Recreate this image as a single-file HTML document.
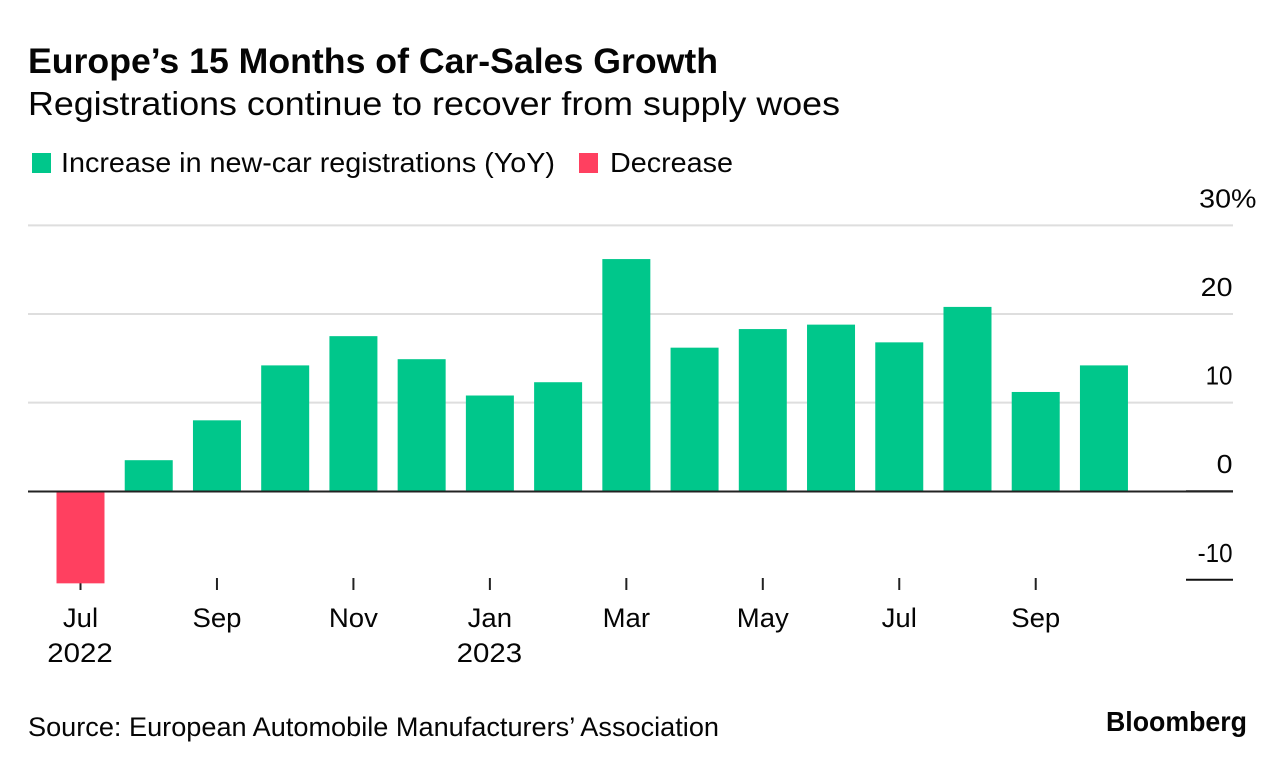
<!DOCTYPE html>
<html lang="en">
<head>
<meta charset="utf-8">
<title>Europe's 15 Months of Car-Sales Growth</title>
<style>
html,body{margin:0;padding:0;background:#fff;width:1285px;height:768px;overflow:hidden}
svg{display:block}
text{font-family:"Liberation Sans",sans-serif;fill:#050505}
</style>
</head>
<body>
<svg id="chart" width="1285" height="768" viewBox="0 0 1285 768" xmlns="http://www.w3.org/2000/svg">
<rect x="0" y="0" width="1285" height="768" fill="#fff"/>
<text x="28" y="73" font-size="35" font-weight="700" textLength="690" lengthAdjust="spacingAndGlyphs">Europe’s 15 Months of Car-Sales Growth</text>
<text x="28" y="115" font-size="33" textLength="812" lengthAdjust="spacingAndGlyphs">Registrations continue to recover from supply woes</text>
<rect x="32" y="153" width="19" height="20" fill="#00c78b"/>
<text x="61" y="172" font-size="28" textLength="494" lengthAdjust="spacingAndGlyphs">Increase in new-car registrations (YoY)</text>
<rect x="579" y="153" width="19" height="20" fill="#ff4060"/>
<text x="610" y="172" font-size="28" textLength="123" lengthAdjust="spacingAndGlyphs">Decrease</text>
<g id="grid"></g>
<g id="ticks"></g>
<g id="bars"></g>
<g id="axis"></g>
<text x="28" y="736" font-size="27" textLength="691" lengthAdjust="spacingAndGlyphs">Source: European Automobile Manufacturers’ Association</text>
<text x="1106" y="731" font-size="28" font-weight="700" textLength="141" lengthAdjust="spacingAndGlyphs">Bloomberg</text>
</svg>
<script>
const months = ['Jul 2022','Aug 2022','Sep 2022','Oct 2022','Nov 2022','Dec 2022','Jan 2023','Feb 2023','Mar 2023','Apr 2023','May 2023','Jun 2023','Jul 2023','Aug 2023','Sep 2023','Oct 2023'];
const values = [-10.4,3.5,8.0,14.2,17.5,14.9,10.8,12.3,26.2,16.2,18.3,18.8,16.8,20.8,11.2,14.2];
const yTicks = [30,20,10,0,-10];
const yTickLabels = ['30%','20','10','0','-10'];
const xTickMonths = ['Jul 2022','Sep 2022','Nov 2022','Jan 2023','Mar 2023','May 2023','Jul 2023','Sep 2023'];
const xTickLabels = ['Jul','Sep','Nov','Jan','Mar','May','Jul','Sep'];
const xTickYears = ['2022','','','2023','','','',''];

const NS = 'http://www.w3.org/2000/svg';
function y(v){ return 491.2 - v * 8.86; }
function x(i){ return 80.5 + i * 68.23; }
const barWidth = 48;

function make(parent, tag, attrs, text){
  const el = document.createElementNS(NS, tag);
  for (const k in attrs) el.setAttribute(k, attrs[k]);
  if (text !== undefined) el.textContent = text;
  parent.appendChild(el);
  return el;
}
function widen(el, factor){
  el.setAttribute('textLength', (el.getComputedTextLength() * factor).toFixed(1));
  el.setAttribute('lengthAdjust', 'spacingAndGlyphs');
}
const grid = document.getElementById('grid');
const ticks = document.getElementById('ticks');
const bars = document.getElementById('bars');
const axis = document.getElementById('axis');

yTicks.forEach(function(t, i){
  if (t > 0) {
    const line = make(grid, 'line', {x1:28, x2:1233, y1:y(t), y2:y(t), stroke:'#dedede', 'stroke-width':2});
    
    
  }
  if (t <= 0) {
    const mark = make(axis, 'line', {x1:1186, x2:1233, y1:y(t), y2:y(t), stroke:'#111', 'stroke-width':2});
    
    
  }
  const offset = t === 30 ? 24 : 0;
  const label = make(axis, 'text', {x:1232.5 + offset, y:y(t) - 18, 'font-size':26, 'text-anchor':'end'}, yTickLabels[i]);
  widen(label, yTickLabels[i].indexOf('1') >= 0 ? 0.93 : 1.1);
  
  
});

values.forEach(function(v, i){
  const top = Math.min(y(v), y(0));
  const h = Math.abs(y(v) - y(0));
  const bar = make(bars, 'rect', {x:x(i) - barWidth / 2, y:top, width:barWidth, height:h, fill: v < 0 ? '#ff4060' : '#00c78b'});
  
  
});

const zero = make(axis, 'line', {x1:28, x2:1233, y1:y(0) + 0.3, y2:y(0) + 0.3, stroke:'#222', 'stroke-width':2});



xTickMonths.forEach(function(m, i){
  const cx = x(months.indexOf(m));
  const tick = make(ticks, 'line', {x1:cx, x2:cx, y1:578, y2:590, stroke:'#222', 'stroke-width':2});
  
  
  const label = make(axis, 'text', {x:cx, y:627, 'font-size':27, 'text-anchor':'middle'}, xTickLabels[i]);
  widen(label, 1.02);
  
  
  if (xTickYears[i]) {
    const yr = make(axis, 'text', {x:cx - 0.5, y:662, 'font-size':27, 'text-anchor':'middle'}, xTickYears[i]);
    widen(yr, 1.09);
    
    
  }
});
</script>
</body>
</html>
